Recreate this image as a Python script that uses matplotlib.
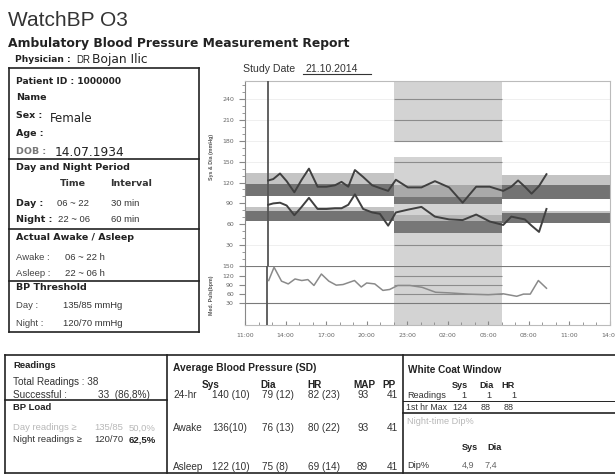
import matplotlib
matplotlib.use('Agg')
import matplotlib.pyplot as plt
from matplotlib.lines import Line2D
from matplotlib.patches import Rectangle

W, H = 615, 474

# readings (hour of day, >24 = next day)
bp_hours = [12.72, 13.09, 13.59, 14.08, 14.65, 15.19, 15.73, 16.37, 17.03, 17.65,
            18.14, 18.64, 19.13, 19.74, 20.41, 20.98, 21.59, 22.16,
            23.05, 24.05, 25.05, 26.1, 27.1, 28.1, 29.1, 30.1,
            30.7, 31.2, 31.7, 32.2, 32.75, 33.3]
sys_vals = [123, 125, 133, 122, 106, 124, 140, 114, 114, 116,
            121, 114, 138, 128, 116, 112, 108, 124,
            113, 113, 122, 113, 91, 114, 114, 108,
            114, 123, 114, 104, 115, 132]
dia_vals = [88, 90, 91, 87, 73, 85, 98, 82, 82, 83,
            83, 88, 103, 82, 77, 75, 58, 77,
            81, 85, 71, 67, 66, 74, 64, 59,
            71, 69, 67, 58, 49, 82]

pulse_hours = [12.75, 13.15, 13.7, 14.2, 14.7, 15.2, 15.65, 16.1, 16.65, 17.2,
               17.75, 18.25, 19.1, 19.6, 20.0, 20.6, 21.2, 21.7, 22.3, 23.2,
               24.1, 25.1, 26.1, 27.5, 29.0, 30.1, 31.1, 31.6, 32.1, 32.7, 33.3]
pulse_vals = [104, 147, 102, 93, 109, 104, 107, 88, 125, 102,
              89, 91, 104, 83, 96, 93, 72, 75, 88, 88,
              82, 66, 64, 60, 58, 61, 53, 60, 60, 104, 79]

xtick_hours = [11, 14, 17, 20, 23, 26, 29, 32, 35, 38]
xtick_labels = ['11:00', '14:00', '17:00', '20:00', '23:00', '02:00', '05:00',
                '08:00', '11:00', '14:00']
bp_ticks = [30, 60, 90, 120, 150, 180, 210, 240]
pulse_ticks = [30, 60, 90, 120, 150]
night = (22, 30)

# threshold bands: (from hour, to hour, low, high, colour)
bands = [
    (11, 22, 118, 134, '#c4c4c4'), (11, 22, 100, 118, '#737373'),
    (11, 22, 79, 85, '#c4c4c4'), (11, 22, 64, 79, '#737373'),
    (22, 30, 99, 116, '#a9a9a9'), (22, 30, 89, 99, '#777777'),
    (22, 30, 64, 74, '#b4b4b4'), (22, 30, 48, 64, '#777777'),
    (30, 38, 116, 131, '#c4c4c4'), (30, 38, 96, 116, '#737373'),
    (30, 38, 76, 79, '#c4c4c4'), (30, 38, 62, 76, '#737373'),
]

fig = plt.figure(figsize=(6.15, 4.74), dpi=100)

SANS = ['Liberation Sans', 'DejaVu Sans']
WIDE = ['DejaVu Sans']


def rect(x0, y0, x1, y1):
    return [x0 / W, 1 - y1 / H, (x1 - x0) / W, (y1 - y0) / H]


def t(x, y, s, size=7, weight='normal', color='#222222', fam=None, ha='left', **kw):
    fig.text(x / W, 1 - y / H, s, fontsize=size, fontweight=weight, color=color,
             family=fam or SANS, va='center', ha=ha, **kw)


def b(x, y, s, size=7, **kw):
    # bold labels of the patient box (wide face)
    t(x, y, s, size=size, weight='bold', fam=WIDE, **kw)


def ln(x0, y0, x1, y1, lw=1.2, color='#222222'):
    fig.add_artist(Line2D([x0 / W, x1 / W], [1 - y0 / H, 1 - y1 / H], color=color, lw=lw))


# ---- chart
night_bg = '#d3d3d3'
ax = fig.add_axes(rect(245, 81, 610, 266))
axp = fig.add_axes(rect(245, 266, 610, 325))
ax.set_xlim(11, 38)
ax.set_ylim(0, 266)
axp.set_xlim(11, 38)
axp.set_ylim(-40, 151)

ax.hlines([240, 210, 180, 150, 30], 11, 38, color='#ececec', lw=0.6, zorder=0)
ax.add_patch(Rectangle((night[0], 178), night[1] - night[0], 90, color=night_bg, lw=0, zorder=1))
ax.add_patch(Rectangle((night[0], 0), night[1] - night[0], 157, color=night_bg, lw=0, zorder=1))
for x0, x1, lo, hi, c in bands:
    ax.add_patch(Rectangle((x0, lo), x1 - x0, hi - lo, color=c, lw=0, zorder=2))
ax.hlines([240, 210, 180, 150, 30], night[0], night[1], color='#8c8c8c', lw=0.8, zorder=3)
ax.axvline(12.72, color='#555555', lw=1.3, zorder=4)
ax.plot(bp_hours, sys_vals, color='#404040', lw=1.4, zorder=5)
ax.plot(bp_hours, dia_vals, color='#404040', lw=1.4, zorder=5)

axp.add_patch(Rectangle((night[0], -40), night[1] - night[0], 191, color=night_bg, lw=0, zorder=1))
axp.hlines([150, 30], 11, 38, color='#7a7a7a', lw=0.8, zorder=3)
axp.hlines([120, 90, 60], night[0], night[1], color='#8c8c8c', lw=0.8, zorder=3)
axp.axvline(12.62, color='#555555', lw=1.3, zorder=4)
axp.plot(pulse_hours, pulse_vals, color='#8a8a8a', lw=1.1, zorder=5)

ax.set_xticks([])
ax.set_yticks(bp_ticks)
ax.set_yticks(range(0, 266, 10), minor=True)
ax.tick_params(axis='y', which='both', direction='out', labelsize=4.5, colors='#888888',
               labelcolor='#666666', pad=4)
ax.tick_params(axis='y', which='major', length=4)
ax.tick_params(axis='y', which='minor', length=2)
axp.set_yticks(pulse_ticks)
axp.tick_params(axis='y', direction='out', length=4, labelsize=4.5, colors='#888888',
                labelcolor='#666666', pad=4)
axp.set_xticks(xtick_hours)
axp.set_xticklabels(xtick_labels)
axp.set_xticks(range(11, 39), minor=True)
axp.tick_params(axis='x', which='both', direction='in', labelsize=4.5, colors='#888888',
                labelcolor='#666666', pad=6)
axp.tick_params(axis='x', which='major', length=3)
axp.tick_params(axis='x', which='minor', length=2)

for a in (ax, axp):
    a.set_facecolor('none')
    a.spines['left'].set_color('#888888')
    a.spines['right'].set_color('#bbbbbb')
    a.spines['top'].set_color('#bbbbbb')
    a.spines['bottom'].set_color('#bbbbbb')
    for s in a.spines.values():
        s.set_linewidth(0.8)
ax.spines['bottom'].set_visible(False)
axp.spines['top'].set_visible(False)

t(212, 157, 'Sys & Dia (mmHg)', size=3.8, weight='bold', color='#555555', rotation=90, ha='center')
t(211, 295, 'Med. Puls(bpm)', size=3.8, weight='bold', color='#555555', rotation=90, ha='center')

# ---- header
t(8, 20, 'WatchBP O3', size=15, color='#333333')
b(8, 43, 'Ambulatory Blood Pressure Measurement Report', size=8.9)
b(15, 60, 'Physician :', size=6.6)
t(76, 60, 'DR', size=7)
t(92, 59, 'Bojan Ilic', size=8.8, fam=WIDE)
t(243, 69, 'Study Date', size=7.6, color='#333333')
t(305, 69, '21.10.2014', size=7.6, color='#333333')
ln(303, 74, 371, 74, lw=0.8, color='#333333')

# ---- patient box
ln(9, 68, 199, 68)
ln(9, 332, 199, 332)
ln(9, 68, 9, 332)
ln(199, 68, 199, 332)
for yy in (159, 229, 281):
    ln(9, yy, 199, yy)
NV = 6.8
b(16, 81, 'Patient ID : 1000000', size=6.6)
b(16, 97, 'Name', size=6.8)
b(16, 115, 'Sex :', size=6.8)
t(50, 118, 'Female', size=8.5, fam=WIDE)
b(16, 133, 'Age :', size=6.8)
b(16, 151, 'DOB :', size=6.8, color='#777777')
t(55, 152, '14.07.1934', size=8.8, fam=WIDE)
b(16, 168, 'Day and Night Period', size=6.8)
b(60, 184, 'Time', size=6.8, color='#333333')
b(110, 184, 'Interval', size=6.8, color='#333333')
b(16, 203, 'Day :', size=6.8)
t(57, 203, '06 ~ 22', size=NV, color='#333333')
t(111, 203, '30 min', size=NV, color='#333333')
b(16, 219, 'Night :', size=6.8)
t(58, 219, '22 ~ 06', size=NV, color='#333333')
t(111, 219, '60 min', size=NV, color='#333333')
b(16, 238, 'Actual Awake / Asleep', size=6.8)
t(16, 257, 'Awake :', size=NV, color='#444444')
t(65, 257, '06 ~ 22 h', size=NV, color='#333333')
t(16, 273, 'Asleep :', size=NV, color='#444444')
t(65, 273, '22 ~ 06 h', size=NV, color='#333333')
b(16, 288, 'BP Threshold', size=6.8)
t(16, 306, 'Day :', size=NV, color='#444444')
t(63, 306, '135/85 mmHg', size=NV, color='#333333')
t(16, 323, 'Night :', size=NV, color='#444444')
t(63, 323, '120/70 mmHg', size=NV, color='#333333')

# ---- bottom tables
ln(5, 355, 615, 355)
ln(5, 473, 615, 473)
ln(5, 355, 5, 473)
ln(167, 355, 167, 473)
ln(403, 355, 403, 473)
ln(5, 400, 167, 400)
ln(403, 401, 615, 401, lw=0.7)
ln(403, 413, 615, 413)

t(13, 365, 'Readings', weight='bold', size=6.8)
t(13, 382, 'Total Readings : 38', color='#333333', size=7.2)
t(13, 395, 'Successful :', color='#333333', size=7.2)
t(98, 395, '33  (86,8%)', color='#333333', size=7.2)
t(13, 408, 'BP Load', weight='bold', size=6.8)
t(13, 428, 'Day readings \u2265', color='#b8b8b8', size=6.8)
t(94, 428, '135/85', color='#b8b8b8', size=6.8)
t(129, 428, '50,0%', color='#b8b8b8', size=6.8)
t(13, 440, 'Night readings \u2265', color='#333333', size=6.8)
t(94, 440, '120/70', color='#333333', size=6.8)
t(129, 440, '62,5%', weight='bold', size=6.8)

t(173, 368, 'Average Blood Pressure (SD)', weight='bold', size=7.4)
avg_cols = [202, 260, 307, 353, 382]
for x, s in zip(avg_cols, ['Sys', 'Dia', 'HR', 'MAP', 'PP']):
    t(x, 385, s, weight='bold', size=7.2)
avg_rows = [('24-hr', 395, ['140 (10)', '79 (12)', '82 (23)', '93', '41']),
            ('Awake', 428, ['136(10)', '76 (13)', '80 (22)', '93', '41']),
            ('Asleep', 467, ['122 (10)', '75 (8)', '69 (14)', '89', '41'])]
val_cols = [212, 262, 308, 357, 387]
for name, yy, vals in avg_rows:
    t(173, yy, name, color='#333333', size=7.2)
    for x, s in zip(val_cols, vals):
        t(x, yy, s, color='#333333', size=7.2)

RS = 6.6
t(408, 370, 'White Coat Window', weight='bold', size=7.2)
for x, s in zip([452, 479, 501], ['Sys', 'Dia', 'HR']):
    t(x, 385, s, weight='bold', size=RS)
t(407, 396, 'Readings', color='#333333', size=RS)
for x, s in zip([461, 486, 511], ['1', '1', '1']):
    t(x, 396, s, color='#333333', size=RS)
t(406, 407, '1st hr Max', color='#333333', size=6.3)
for x, s in zip([452, 481, 504], ['124', '88', '88']):
    t(x, 407, s, color='#333333', size=RS)
t(407, 421, 'Night-time Dip%', color='#b8b8b8', size=RS)
t(462, 447, 'Sys', weight='bold', size=RS)
t(487, 447, 'Dia', weight='bold', size=RS)
t(407, 465, 'Dip%', color='#333333', size=RS)
t(462, 465, '4,9', color='#666666', size=RS)
t(485, 465, '7,4', color='#666666', size=RS)

fig.savefig('out.png', dpi=100)
